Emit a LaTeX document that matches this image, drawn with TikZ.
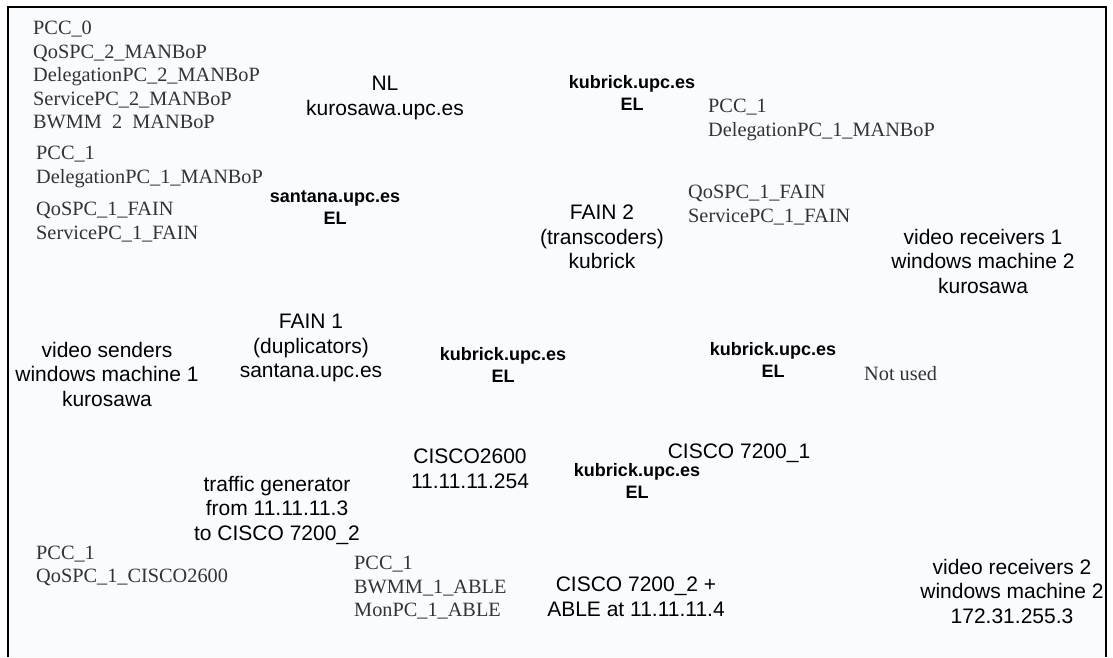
\documentclass[tikz,border=0pt]{standalone}
\usepackage{fontspec}
\setmainfont{Liberation Serif}
\newfontfamily\arialfont{Liberation Sans}
\usepackage{tikz}
\usetikzlibrary{positioning}
\usepackage{xcolor}
\definecolor{paneltint}{RGB}{248,252,254}
\definecolor{policytext}{RGB}{51,51,51}

\begin{document}
\begin{tikzpicture}[
    x=1pt, y=-1pt,
    policy/.style={font=\fontsize{20.3}{23.5}\selectfont, text=policytext, align=left, anchor=west, inner sep=0pt},
    host/.style={font=\arialfont\fontsize{21}{24.5}\selectfont, align=center, inner sep=0pt},
    ee/.style={font=\arialfont\bfseries\fontsize{18}{22}\selectfont, align=center, inner sep=0pt}
]
    \useasboundingbox (0,0) rectangle (1113,657);

    % Frame
    \fill[paneltint] (8,7) rectangle (1106,657);
    \draw[line width=2pt] (8,657) -- (8,7) -- (1106,7) -- (1106,657);

    % Policies (left column)
    \node[policy] (polNL) at (33,75) {PCC\_0\\QoSPC\_2\_MANBoP\\DelegationPC\_2\_MANBoP\\ServicePC\_2\_MANBoP\\BWMM\ \ 2\ \ MANBoP};
    \node[policy] (polDelA) at (36,167) {PCC\_1\\DelegationPC\_1\_MANBoP};
    \node[policy] (polFainA) at (36,222) {QoSPC\_1\_FAIN\\ServicePC\_1\_FAIN};

    % Policies (kubrick)
    \node[policy] (polDelB) at (708,120) {PCC\_1\\DelegationPC\_1\_MANBoP};
    \node[policy] (polFainB) at (688,205) {QoSPC\_1\_FAIN\\ServicePC\_1\_FAIN};
    \node[policy] (notUsed) at (864,374) {Not used};

    % Policies (bottom)
    \node[policy] (polCisco) at (36,566) {PCC\_1\\QoSPC\_1\_CISCO2600};
    \node[policy] (polAble) at (354,588) {PCC\_1\\BWMM\_1\_ABLE\\MonPC\_1\_ABLE};

    % Network level and execution environments
    \node[host] (nl) at (385,98) {NL\\kurosawa.upc.es};
    \node[ee] (eeKubTop) at (632,93) {kubrick.upc.es\\EL};
    \node[ee] (eeSantana) at (335,208) {santana.upc.es\\EL};
    \node[ee] (eeKubMid) at (503,365) {kubrick.upc.es\\EL};
    \node[ee] (eeKubRight) at (773,360) {kubrick.upc.es\\EL};
    \node[ee] (eeKubLow) at (637,481) {kubrick.upc.es\\EL};

    % Active nodes
    \node[host] (fainTwo) at (602,237) {FAIN 2\\(transcoders)\\kubrick};
    \node[host] (fainOne) at (311,348) {FAIN 1\\(duplicators)\\santana.upc.es};

    % End systems
    \node[host] (recvOne) at (983,261) {video receivers 1\\windows machine 2\\kurosawa};
    \node[host] (senders) at (107,374) {video senders\\windows machine 1\\kurosawa};
    \node[host] (recvTwo) at (1012,591) {video receivers 2\\windows machine 2\\172.31.255.3};
    \node[host] (trafGen) at (277,510) {traffic generator\\from 11.11.11.3\\to CISCO 7200\_2};

    % Routers
    \node[host] (ciscoSix) at (470,469) {CISCO2600\\11.11.11.254};
    \node[host] (ciscoSevOne) at (739,453) {CISCO 7200\_1};
    \node[host] (ciscoSevTwo) at (636,597) {CISCO 7200\_2 +\\ABLE at 11.11.11.4};
\end{tikzpicture}
\end{document}
